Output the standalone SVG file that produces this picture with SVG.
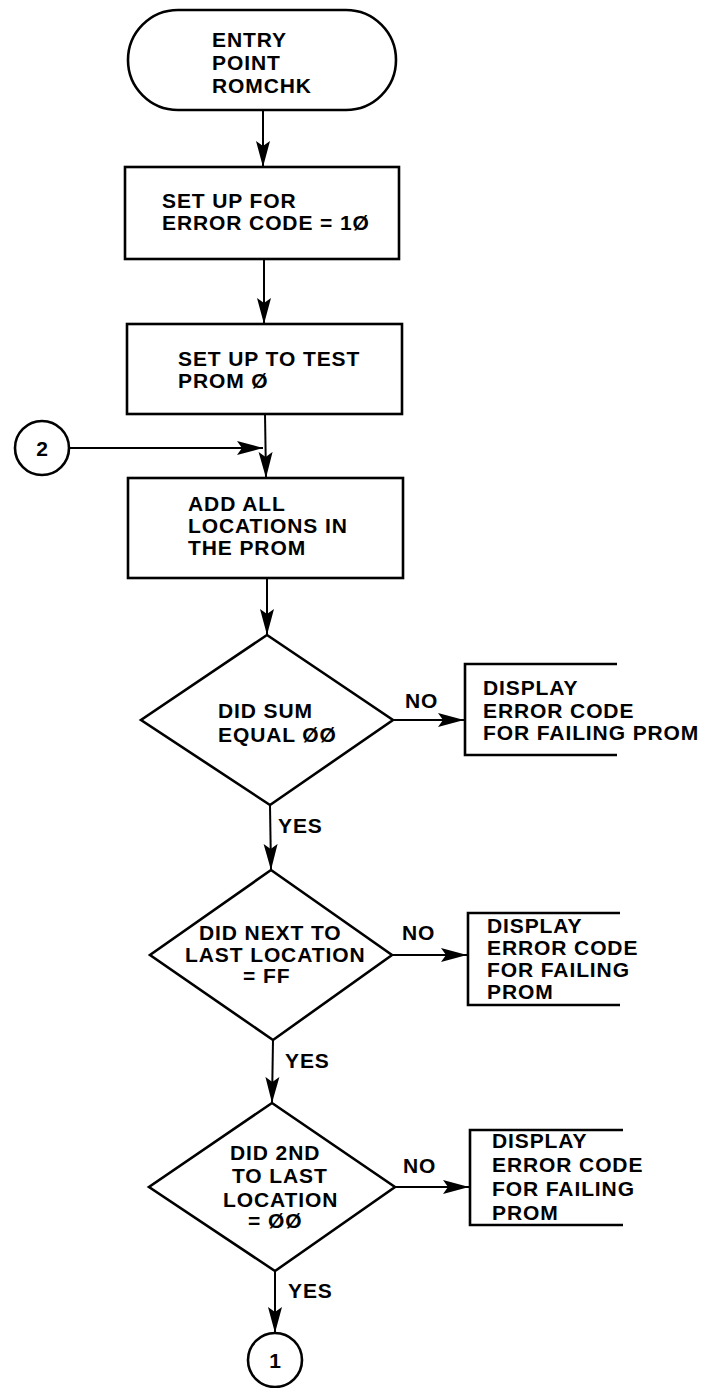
<svg xmlns="http://www.w3.org/2000/svg" width="709" height="1388" viewBox="0 0 709 1388">
<style>
.s{fill:none;stroke:#000;stroke-width:2.6}
.c{fill:none;stroke:#000;stroke-width:2}
text{font-family:"Liberation Sans",Arial,Helvetica,sans-serif;font-weight:bold;font-size:21px;fill:#000;letter-spacing:0.9px}
.m{text-anchor:middle;letter-spacing:0}
</style>
<defs>
<marker id="a" markerUnits="userSpaceOnUse" markerWidth="27" markerHeight="16" refX="26" refY="8" orient="auto">
<path d="M0,1 L26,8 L0,15 L5,8 z" fill="#000"/>
</marker>
</defs>
<rect width="709" height="1388" fill="#fff"/>
<g id="connectors">
<line class="c" x1="263" y1="110" x2="263" y2="167" marker-end="url(#a)"/>
<line class="c" x1="264" y1="259" x2="264" y2="324" marker-end="url(#a)"/>
<line class="c" x1="265" y1="414" x2="266" y2="478" marker-end="url(#a)"/>
<line class="c" x1="69" y1="448" x2="263" y2="448" marker-end="url(#a)"/>
<line class="c" x1="267" y1="578" x2="267" y2="635" marker-end="url(#a)"/>
<line class="c" x1="393" y1="720" x2="464" y2="720" marker-end="url(#a)"/>
<line class="c" x1="270" y1="805" x2="271" y2="870" marker-end="url(#a)"/>
<line class="c" x1="392" y1="955" x2="467" y2="955" marker-end="url(#a)"/>
<line class="c" x1="273" y1="1040" x2="272" y2="1103" marker-end="url(#a)"/>
<line class="c" x1="395" y1="1187" x2="469" y2="1187" marker-end="url(#a)"/>
<line class="c" x1="275" y1="1271" x2="275" y2="1333" marker-end="url(#a)"/>
<text x="405" y="708">NO</text>
<text x="402" y="940">NO</text>
<text x="403" y="1173">NO</text>
<text x="278" y="833">YES</text>
<text x="285" y="1068">YES</text>
<text x="288" y="1298">YES</text>
</g>
<g id="entry">
<rect class="s" x="128" y="10" width="268" height="100" rx="50" ry="50"/>
<text x="212" y="47">ENTRY</text>
<text x="212" y="70">POINT</text>
<text x="212" y="93">ROMCHK</text>
</g>
<g id="setup-error">
<rect class="s" x="125" y="167" width="274" height="92"/>
<text x="162" y="208">SET UP FOR</text>
<text x="162" y="230">ERROR CODE = 1Ø</text>
</g>
<g id="setup-prom">
<rect class="s" x="127" y="324" width="275" height="90"/>
<text x="178" y="366">SET UP TO TEST</text>
<text x="178" y="388">PROM Ø</text>
</g>
<g id="conn-2">
<circle class="s" cx="42" cy="448" r="27"/>
<text class="m" x="42" y="456">2</text>
</g>
<g id="add-all">
<rect class="s" x="128" y="478" width="275" height="100"/>
<text x="188" y="511">ADD ALL</text>
<text x="188" y="533">LOCATIONS IN</text>
<text x="188" y="555">THE PROM</text>
</g>
<g id="sum-check">
<polygon class="s" points="267,635 393,720 270,805 141,720"/>
<text x="218" y="718">DID SUM</text>
<text x="218" y="742">EQUAL ØØ</text>
</g>
<g id="display-1">
<path class="s" d="M617,664 H465 V755 H617"/>
<text x="483" y="695">DISPLAY</text>
<text x="483" y="718">ERROR CODE</text>
<text x="483" y="740">FOR FAILING PROM</text>
</g>
<g id="ff-check">
<polygon class="s" points="271,870 392,955 273,1040 150,955"/>
<text x="199" y="940">DID NEXT TO</text>
<text x="185" y="962">LAST LOCATION</text>
<text x="243" y="983">= FF</text>
</g>
<g id="display-2">
<path class="s" d="M620,913 H468 V1005 H620"/>
<text x="487" y="933">DISPLAY</text>
<text x="487" y="955">ERROR CODE</text>
<text x="487" y="977">FOR FAILING</text>
<text x="487" y="999">PROM</text>
</g>
<g id="zero-check">
<polygon class="s" points="272,1103 395,1187 275,1271 149,1187"/>
<text x="230" y="1160">DID 2ND</text>
<text x="232" y="1183">TO LAST</text>
<text x="223" y="1207">LOCATION</text>
<text x="248" y="1228">= ØØ</text>
</g>
<g id="display-3">
<path class="s" d="M623,1130 H470 V1225 H623"/>
<text x="492" y="1148">DISPLAY</text>
<text x="492" y="1172">ERROR CODE</text>
<text x="492" y="1196">FOR FAILING</text>
<text x="492" y="1220">PROM</text>
</g>
<g id="conn-1">
<circle class="s" cx="275" cy="1360" r="27"/>
<text class="m" x="275" y="1368">1</text>
</g>
</svg>
